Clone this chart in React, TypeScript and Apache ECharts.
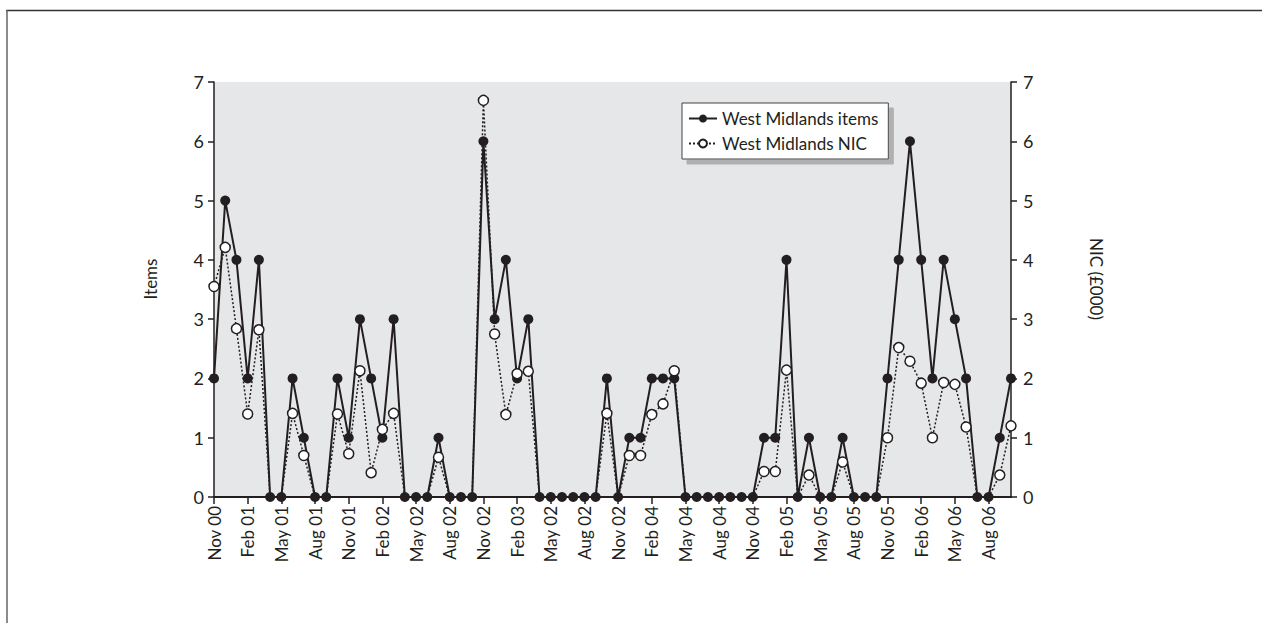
import React, { useEffect, useRef } from "react";
import * as echarts from "echarts";

const tickLabels = [
  "Nov 00", "Feb 01", "May 01", "Aug 01", "Nov 01", "Feb 02", "May 02", "Aug 02",
  "Nov 02", "Feb 03", "May 02", "Aug 02", "Nov 02", "Feb 04", "May 04", "Aug 04",
  "Nov 04", "Feb 05", "May 05", "Aug 05", "Nov 05", "Feb 06", "May 06", "Aug 06",
];

// 72 monthly points, Nov 00 .. Oct 06; only every third month carries a label
const monthCount = 72;

const itemsValues = [
  2, 5, 4, 2, 4, 0, 0, 2, 1, 0, 0, 2,
  1, 3, 2, 1, 3, 0, 0, 0, 1, 0, 0, 0,
  6, 3, 4, 2, 3, 0, 0, 0, 0, 0, 0, 2,
  0, 1, 1, 2, 2, 2, 0, 0, 0, 0, 0, 0,
  0, 1, 1, 4, 0, 1, 0, 0, 1, 0, 0, 0,
  2, 4, 6, 4, 2, 4, 3, 2, 0, 0, 1, 2,
];

const nicValues = [
  3.55, 4.21, 2.84, 1.4, 2.82, 0, 0, 1.41, 0.7, 0, 0, 1.4,
  0.73, 2.13, 0.41, 1.14, 1.41, 0, 0, 0, 0.67, 0, 0, 0,
  6.69, 2.75, 1.39, 2.08, 2.12, 0, 0, 0, 0, 0, 0, 1.41,
  0, 0.7, 0.7, 1.39, 1.57, 2.13, 0, 0, 0, 0, 0, 0,
  0, 0.43, 0.43, 2.14, 0, 0.37, 0, 0, 0.59, 0, 0, 0,
  1.0, 2.52, 2.29, 1.92, 1.0, 1.93, 1.9, 1.18, 0, 0, 0.37, 1.2,
];

const yTicks = [0, 1, 2, 3, 4, 5, 6, 7];

export default function App() {
  const ref = useRef<HTMLDivElement>(null);

  useEffect(() => {
    if (!ref.current) return;
    const chart = echarts.init(ref.current, undefined, { renderer: "svg" });
    const dark = "#231f20";
    const font = "Lato";

    const categories: string[] = [];
    for (let i = 0; i < monthCount; i++) {
      categories.push(i % 3 === 0 ? tickLabels[i / 3] ?? "" : "");
    }

    const yMin = yTicks[0];
    const yMax = yTicks[yTicks.length - 1];

    const yAxisCommon = {
      type: "value" as const,
      min: yMin,
      max: yMax,
      interval: 1,
      splitLine: { show: false },
      axisLine: { show: true, lineStyle: { color: dark, width: 1.5 } },
      axisTick: { show: true, length: 6, lineStyle: { color: dark, width: 1.5 } },
      axisLabel: { color: dark, fontSize: 18, fontFamily: font, margin: 10 },
    };

    chart.setOption({
      animation: false,
      textStyle: { fontFamily: font },
      grid: {
        left: 214,
        right: 251,
        top: 82,
        bottom: 126,
        show: true,
        backgroundColor: "#e6e7e8",
        borderWidth: 0,
      },
      legend: {
        orient: "vertical",
        left: 682,
        top: 103,
        padding: [7, 10, 7, 6],
        itemGap: 8,
        itemWidth: 28,
        itemHeight: 10,
        backgroundColor: "#ffffff",
        borderColor: "#444",
        borderWidth: 1,
        shadowColor: "#b0b0b0",
        shadowOffsetX: 5,
        shadowOffsetY: 5,
        shadowBlur: 0,
        textStyle: { color: dark, fontSize: 17, fontFamily: font },
        data: ["West Midlands items", "West Midlands NIC"],
      },
      xAxis: {
        type: "category",
        data: categories,
        boundaryGap: false,
        axisLine: { show: true, lineStyle: { color: dark, width: 2 } },
        axisTick: {
          show: true,
          length: 7,
          interval: (idx: number) => idx % 3 === 0,
          lineStyle: { color: dark, width: 1.5 },
        },
        axisLabel: {
          interval: (idx: number) => idx % 3 === 0,
          rotate: 90,
          color: dark,
          fontSize: 17,
          fontFamily: font,
          margin: 9,
        },
      },
      yAxis: [
        { ...yAxisCommon, position: "left" },
        { ...yAxisCommon, position: "right", axisLabel: { ...yAxisCommon.axisLabel, margin: 12 } },
      ],
      graphic: [
        {
          type: "text",
          x: 150,
          y: 279,
          rotation: Math.PI / 2,
          style: {
            text: "Items",
            fill: dark,
            font: `17px ${font}`,
            align: "center",
            verticalAlign: "middle",
          },
        },
        {
          type: "text",
          x: 1096,
          y: 279,
          rotation: -Math.PI / 2,
          style: {
            text: "NIC (£000)",
            fill: dark,
            font: `17px ${font}`,
            align: "center",
            verticalAlign: "middle",
          },
        },
        {
          type: "line",
          shape: { x1: 6, y1: 10.5, x2: 1262, y2: 10.5 },
          style: { stroke: "#333", lineWidth: 1.5 },
        },
        {
          type: "line",
          shape: { x1: 7, y1: 10, x2: 7, y2: 623 },
          style: { stroke: "#666", lineWidth: 1.5 },
        },
      ],
      series: [
        {
          name: "West Midlands items",
          type: "line",
          yAxisIndex: 0,
          data: itemsValues,
          symbol: "circle",
          symbolSize: 10,
          showAllSymbol: true,
          z: 2,
          lineStyle: { color: dark, width: 2 },
          itemStyle: { color: dark, borderColor: dark, borderWidth: 0 },
        },
        {
          name: "West Midlands NIC",
          type: "line",
          yAxisIndex: 1,
          data: nicValues.map((v) =>
            v === 0 ? { value: v, symbol: "none" } : { value: v }
          ),
          symbol: "circle",
          symbolSize: 10,
          showAllSymbol: true,
          z: 3,
          lineStyle: { color: dark, width: 1.5, type: [2, 2] },
          itemStyle: { color: "#ffffff", borderColor: dark, borderWidth: 1.5 },
        },
      ],
    });

    return () => chart.dispose();
  }, []);

  return (
    <div
      ref={ref}
      style={{ position: "fixed", left: 0, top: 0, width: 1262, height: 623, background: "#fff" }}
    />
  );
}
